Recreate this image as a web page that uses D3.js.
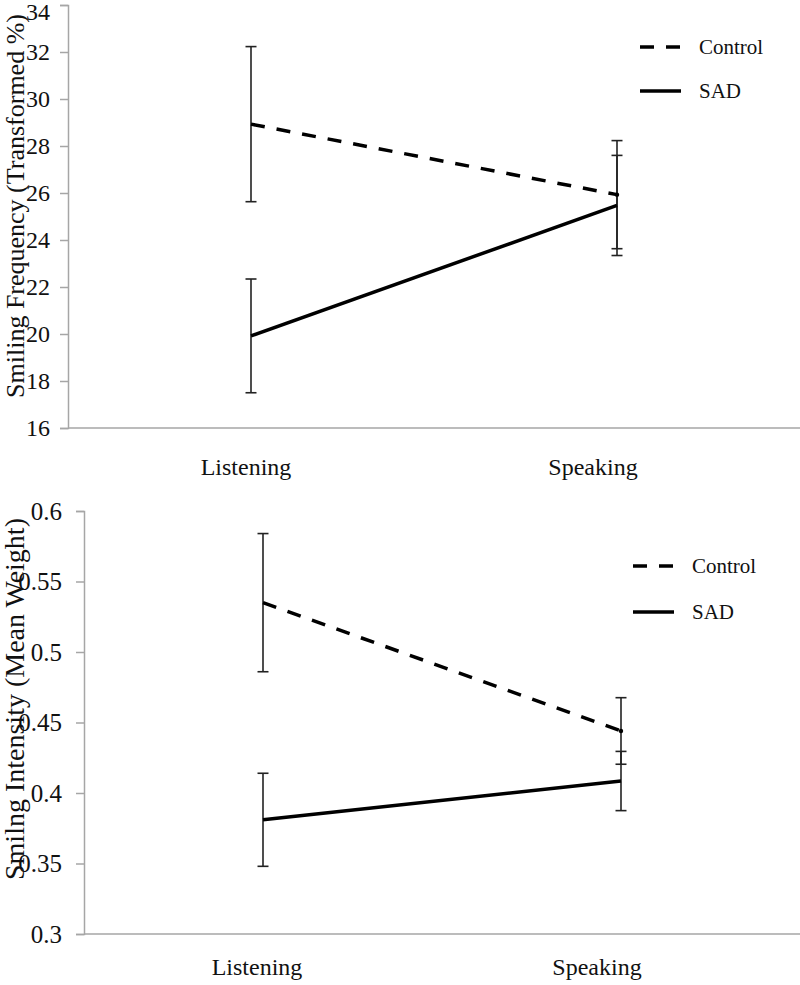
<!DOCTYPE html>
<html>
<head>
<meta charset="utf-8">
<script src="https://cdn.jsdelivr.net/npm/d3@7"></script>
<style>
  body { margin: 0; background: #fff; }
  svg { display: block; }
  svg text { font-family: "Liberation Serif", "Times New Roman", Times, serif !important; }
</style>
</head>
<body>
<svg id="chart" width="800" height="985"></svg>
<script>
// data
var conditions = ["Listening", "Speaking"];
var groups = ["Control", "SAD"];

var freqControl = [28.93, 25.93];
var freqControlErr = [3.30, 2.30];
var freqSAD = [19.92, 25.47];
var freqSADErr = [2.42, 2.13];
var freqTicks = [16, 18, 20, 22, 24, 26, 28, 30, 32, 34];

var intControl = [0.535, 0.444];
var intControlErr = [0.049, 0.0236];
var intSAD = [0.381, 0.4085];
var intSADErr = [0.033, 0.021];
var intTicks = [0.3, 0.35, 0.4, 0.45, 0.5, 0.55, 0.6];

var serif = "'Liberation Serif', 'Times New Roman', Times, serif";
var svg = d3.select("#chart").attr("font-family", serif);

// one panel = one line chart with error bars
function panel(opt) {
    var g = svg.append("g");

    var x = d3.scalePoint().domain(conditions)
        .range([opt.left, 800]).padding(0.5);
    var y = d3.scaleLinear().domain(opt.domain).range([opt.bottom, opt.top]);

    // y axis
    var yAxis = d3.axisLeft(y).tickValues(opt.ticks).tickSize(8).tickPadding(opt.tickPad)
        .tickFormat(function(d){ return String(+d.toFixed(2)); });
    var ya = g.append("g").attr("transform", "translate(" + opt.left + ",0)").call(yAxis)
        .attr("font-family", serif);
    ya.select(".domain").attr("stroke", "#a6a6a6").attr("stroke-width", 1.5);
    ya.selectAll(".tick line").attr("stroke", "#a6a6a6").attr("stroke-width", 1.5);
    ya.selectAll(".tick text")
        .attr("fill", "#111")
        .attr("font-family", serif)
        .attr("font-size", opt.tickSize);
    // top label sits a little lower so it stays on the page
    ya.selectAll(".tick text").filter(function(d){ return d === opt.domain[1]; })
        .attr("dy", opt.topDy);

    // x axis line
    g.append("line")
        .attr("x1", opt.left).attr("x2", 800)
        .attr("y1", opt.bottom).attr("y2", opt.bottom)
        .attr("stroke", "#a6a6a6").attr("stroke-width", 1.5);

    // category labels
    g.selectAll(".cat").data(conditions).enter()
        .append("text")
        .attr("class", "cat")
        .attr("x", function(d, i){ return x(d) + opt.labelShift[i]; })
        .attr("y", opt.labelY)
        .attr("text-anchor", "middle")
        .attr("font-size", 24)
        .attr("fill", "#111")
        .text(function(d){ return d; });

    // y title
    g.append("text")
        .attr("transform", "translate(" + opt.titleX + "," + opt.titleY + ") rotate(-90)")
        .attr("text-anchor", "middle")
        .attr("font-size", opt.titleSize)
        .attr("fill", "#111")
        .text(opt.title);

    var series = [
        { name: "Control", vals: opt.control, errs: opt.controlErr, dash: "14,12" },
        { name: "SAD", vals: opt.sad, errs: opt.sadErr, dash: null }
    ];

    // error bars
    series.forEach(function(s){
        var eb = g.selectAll(".eb-" + s.name).data(conditions).enter().append("g");
        eb.append("line")
            .attr("x1", function(d){ return x(d); })
            .attr("x2", function(d){ return x(d); })
            .attr("y1", function(d, i){ return y(s.vals[i] + s.errs[i]); })
            .attr("y2", function(d, i){ return y(s.vals[i] - s.errs[i]); })
            .attr("stroke", "#222").attr("stroke-width", 1.6);
        [1, -1].forEach(function(sign){
            eb.append("line")
                .attr("x1", function(d){ return x(d) - 5.5; })
                .attr("x2", function(d){ return x(d) + 5.5; })
                .attr("y1", function(d, i){ return y(s.vals[i] + sign * s.errs[i]); })
                .attr("y2", function(d, i){ return y(s.vals[i] + sign * s.errs[i]); })
                .attr("stroke", "#222").attr("stroke-width", 1.6);
        });
    });

    // lines
    var line = d3.line()
        .x(function(d){ return x(d.c); })
        .y(function(d){ return y(d.v); });
    series.forEach(function(s){
        var pts = conditions.map(function(c, i){ return { c: c, v: s.vals[i] }; });
        g.append("path")
            .attr("d", line(pts))
            .attr("fill", "none")
            .attr("stroke", "#000")
            .attr("stroke-width", 3.5)
            .attr("stroke-dasharray", s.dash);
        if (s.dash) {
            g.append("circle")
                .attr("cx", x(conditions[1])).attr("cy", y(s.vals[1]))
                .attr("r", 2.2).attr("fill", "#000");
        }
    });

    // legend
    var lg = g.selectAll(".lg").data(groups).enter().append("g")
        .attr("transform", function(d, i){ return "translate(" + opt.legendX + "," + opt.legendY[i] + ")"; });
    lg.append("line")
        .attr("x1", 0).attr("x2", 41)
        .attr("stroke", "#000").attr("stroke-width", 3.5)
        .attr("stroke-dasharray", function(d){ return d === "Control" ? "14,12" : null; });
    lg.append("text")
        .attr("x", opt.legendText).attr("y", 7)
        .attr("font-size", 21)
        .attr("fill", "#111")
        .text(function(d){ return d; });
}

panel({
    left: 68, top: 5, bottom: 428, domain: [16, 34], ticks: freqTicks,
    tickPad: 10, tickSize: 24, topDy: "0.62em",
    control: freqControl, controlErr: freqControlErr, sad: freqSAD, sadErr: freqSADErr,
    labelY: 475, labelShift: [-5, -24],
    title: "Smiling Frequency (Transformed %)", titleX: 24, titleY: 206, titleSize: 26,
    legendX: 640, legendY: [47, 91], legendText: 59
});

panel({
    left: 84, top: 511, bottom: 934, domain: [0.3, 0.6], ticks: intTicks,
    tickPad: 14, tickSize: 25, topDy: "0.32em",
    control: intControl, controlErr: intControlErr, sad: intSAD, sadErr: intSADErr,
    labelY: 975, labelShift: [-6, -24],
    title: "Smilng Intensity (Mean Weight)", titleX: 24, titleY: 699, titleSize: 28,
    legendX: 633, legendY: [566, 612], legendText: 59
});
</script>
</body>
</html>
